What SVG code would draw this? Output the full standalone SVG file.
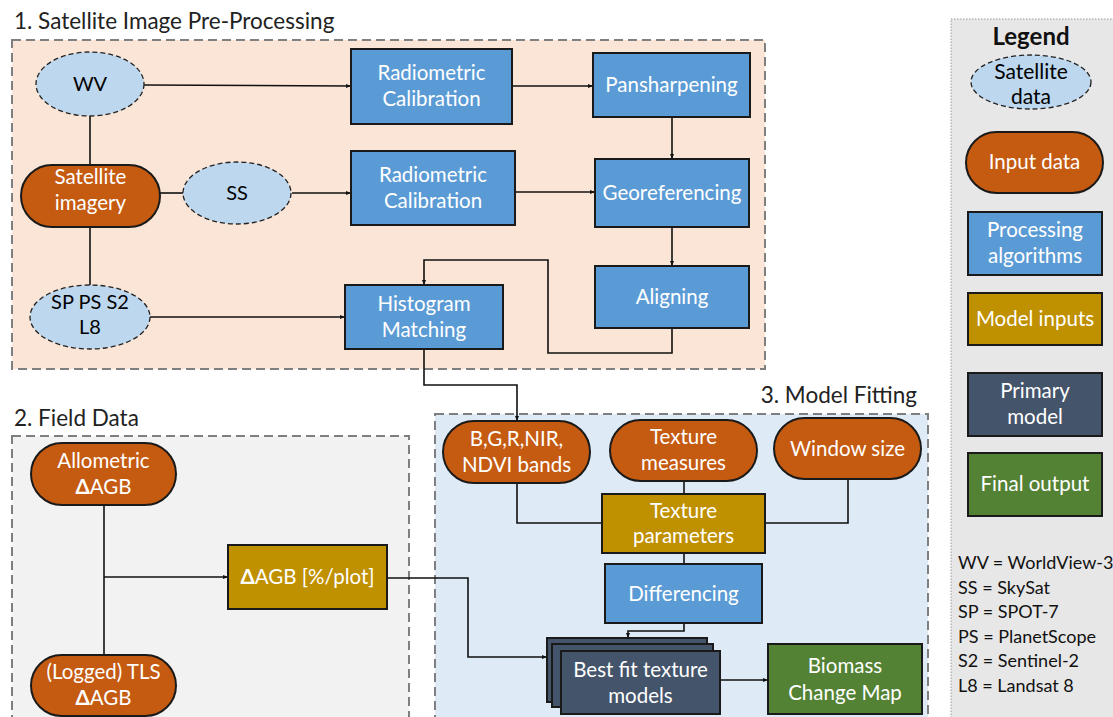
<svg xmlns="http://www.w3.org/2000/svg" width="1113" height="717" viewBox="0 0 1113 717">
<defs>
<style>
text{font-family:Lato,"Open Sans","Liberation Sans",sans-serif;text-anchor:middle}
.w{fill:#ffffff;font-size:20.5px}
.k{fill:#000000;font-size:20px}
.title{fill:#222;font-size:22.5px;text-anchor:start}
.sec{stroke:#7f7f7f;stroke-width:2;stroke-dasharray:9 5}
.ell{fill:#bdd7ee;stroke:#222;stroke-width:1.3;stroke-dasharray:5 3}
.inp{fill:#c55a11;stroke:#1a1a1a;stroke-width:2}
.proc{fill:#5b9bd5;stroke:#1a1a1a;stroke-width:2}
.mod{fill:#bf9000;stroke:#1a1a1a;stroke-width:2}
.prim{fill:#44546a;stroke:#1a1a1a;stroke-width:2}
.fin{fill:#548235;stroke:#1a1a1a;stroke-width:2}
.c{fill:none;stroke:#111;stroke-width:1.6}
.abbr{fill:#111;font-size:18px;text-anchor:start}
</style>
<marker id="ah" viewBox="0 0 10 10" refX="10" refY="5" markerWidth="5" markerHeight="5" orient="auto" markerUnits="userSpaceOnUse">
<path d="M0,1 L10,5 L0,9 z" fill="#111"/>
</marker>
</defs>
<rect width="1113" height="717" fill="#ffffff"/>

<g id="sections">
<rect class="sec" x="12" y="40" width="753" height="329" fill="#fbe5d6"/>
<text class="title" x="14" y="29">1. Satellite Image Pre-Processing</text>
<rect class="sec" x="12" y="436" width="397" height="300" fill="#f2f2f2"/>
<text class="title" x="14" y="426">2. Field Data</text>
<rect class="sec" x="435" y="414" width="493" height="320" fill="#deebf7"/>
<text class="title" x="917" y="403" style="text-anchor:end">3. Model Fitting</text>
</g>

<g id="legend">
<rect x="951" y="19" width="180" height="720" fill="#e7e7e7" stroke="#999" stroke-width="1" stroke-dasharray="1.5 1.5"/>
<text x="1031" y="45" style="font-size:24px;font-weight:bold;fill:#111">Legend</text>
<ellipse class="ell" cx="1031" cy="82" rx="60" ry="27"/>
<text class="k" x="1031" y="79" style="font-size:21px">Satellite</text>
<text class="k" x="1031" y="104" style="font-size:21px">data</text>
<rect class="inp" x="966" y="132" width="137" height="61" rx="30.5"/>
<text class="w" x="1034.5" y="169">Input data</text>
<rect class="proc" x="968" y="212" width="134" height="63"/>
<text class="w" x="1035" y="237">Processing</text>
<text class="w" x="1035" y="263">algorithms</text>
<rect class="mod" x="968" y="293" width="134" height="52"/>
<text class="w" x="1035" y="326">Model inputs</text>
<rect class="prim" x="968" y="373" width="134" height="63"/>
<text class="w" x="1035" y="398">Primary</text>
<text class="w" x="1035" y="424">model</text>
<rect class="fin" x="968" y="453" width="134" height="63"/>
<text class="w" x="1035" y="491">Final output</text>
<text class="abbr" x="958" y="569">WV = WorldView-3</text>
<text class="abbr" x="958" y="594">SS = SkySat</text>
<text class="abbr" x="958" y="618">SP = SPOT-7</text>
<text class="abbr" x="958" y="643">PS = PlanetScope</text>
<text class="abbr" x="958" y="667">S2 = Sentinel-2</text>
<text class="abbr" x="958" y="692">L8 = Landsat 8</text>
</g>

<g id="connectors">
<path class="c" d="M144,85 L351,86" marker-end="url(#ah)"/>
<path class="c" d="M90,116 V165"/>
<path class="c" d="M90,227 V285"/>
<path class="c" d="M160,193 H183"/>
<path class="c" d="M292,193 H351" marker-end="url(#ah)"/>
<path class="c" d="M512,86 H593" marker-end="url(#ah)"/>
<path class="c" d="M515,192 H595" marker-end="url(#ah)"/>
<path class="c" d="M672,117 V159" marker-end="url(#ah)"/>
<path class="c" d="M672,227 V266" marker-end="url(#ah)"/>
<path class="c" d="M672,328 V353 H548 V260 H424 V285" marker-end="url(#ah)"/>
<path class="c" d="M150,317 H345" marker-end="url(#ah)"/>
<path class="c" d="M424,349 V385 H517 V421" marker-end="url(#ah)"/>
<path class="c" d="M104,505 V655"/>
<path class="c" d="M104,577 H228" marker-end="url(#ah)"/>
<path class="c" d="M387,578 H468 V657 H547" marker-end="url(#ah)"/>
<path class="c" d="M517,483 V523 H602"/>
<path class="c" d="M848,479 V523 H765"/>
<path class="c" d="M684,481 V494"/>
<path class="c" d="M684,553 V564"/>
<path class="c" d="M684,623 V631 H628 V638" marker-end="url(#ah)"/>
<path class="c" d="M720,680 H768" marker-end="url(#ah)"/>
</g>

<g id="wv"><ellipse class="ell" cx="90" cy="84" rx="54" ry="32"/><text class="k" x="90" y="91">WV</text></g>
<g id="satellite-imagery"><rect class="inp" x="21" y="165" width="139" height="62" rx="31"/><text class="w" x="90.5" y="184">Satellite</text><text class="w" x="90.5" y="210">imagery</text></g>
<g id="ss"><ellipse class="ell" cx="237" cy="193" rx="54" ry="31"/><text class="k" x="237" y="200">SS</text></g>
<g id="sp-ps-s2-l8"><ellipse class="ell" cx="90" cy="317" rx="60" ry="32"/><text class="k" x="90" y="309">SP PS S2</text><text class="k" x="90" y="334">L8</text></g>
<g id="radiometric-1"><rect class="proc" x="351" y="49" width="161" height="75"/><text class="w" x="431.5" y="80">Radiometric</text><text class="w" x="431.5" y="106">Calibration</text></g>
<g id="radiometric-2"><rect class="proc" x="351" y="151" width="164" height="74"/><text class="w" x="433" y="182">Radiometric</text><text class="w" x="433" y="208">Calibration</text></g>
<g id="pansharpening"><rect class="proc" x="593" y="53" width="157" height="64"/><text class="w" x="671.5" y="92">Pansharpening</text></g>
<g id="georeferencing"><rect class="proc" x="595" y="159" width="154" height="68"/><text class="w" x="672" y="200">Georeferencing</text></g>
<g id="aligning"><rect class="proc" x="595" y="266" width="154" height="62"/><text class="w" x="672" y="304">Aligning</text></g>
<g id="histogram-matching"><rect class="proc" x="345" y="285" width="158" height="64"/><text class="w" x="424" y="311">Histogram</text><text class="w" x="424" y="337">Matching</text></g>

<g id="allometric"><rect class="inp" x="31" y="443" width="145" height="62" rx="31"/><text class="w" x="103.5" y="468">Allometric</text><text class="w" x="103.5" y="494"><tspan font-weight="bold">Δ</tspan>AGB</text></g>
<g id="tls"><rect class="inp" x="31" y="655" width="145" height="61" rx="30.5"/><text class="w" x="103.5" y="679">(Logged) TLS</text><text class="w" x="103.5" y="705"><tspan font-weight="bold">Δ</tspan>AGB</text></g>
<g id="dagb-plot"><rect class="mod" x="228" y="545" width="159" height="64"/><text class="w" x="307.5" y="584"><tspan font-weight="bold">Δ</tspan>AGB [%/plot]</text></g>

<g id="bands"><rect class="inp" x="443" y="421" width="147" height="62" rx="31"/><text class="w" x="516.5" y="446">B,G,R,NIR,</text><text class="w" x="516.5" y="472">NDVI bands</text></g>
<g id="texture-measures"><rect class="inp" x="610" y="420" width="147" height="61" rx="30.5"/><text class="w" x="683.5" y="444">Texture</text><text class="w" x="683.5" y="470">measures</text></g>
<g id="window-size"><rect class="inp" x="774" y="418" width="147" height="61" rx="30.5"/><text class="w" x="847.5" y="456">Window size</text></g>
<g id="texture-parameters"><rect class="mod" x="602" y="494" width="163" height="59"/><text class="w" x="683.5" y="518">Texture</text><text class="w" x="683.5" y="543">parameters</text></g>
<g id="differencing"><rect class="proc" x="605" y="564" width="157" height="59"/><text class="w" x="683.5" y="601">Differencing</text></g>
<g id="best-fit"><rect class="prim" x="547" y="638" width="160" height="64"/><rect class="prim" x="552" y="644" width="161" height="63"/><rect class="prim" x="561" y="651" width="159" height="63"/><text class="w" x="640.5" y="677">Best fit texture</text><text class="w" x="640.5" y="703">models</text></g>
<g id="biomass-map"><rect class="fin" x="768" y="644" width="154" height="70"/><text class="w" x="845" y="673">Biomass</text><text class="w" x="845" y="700">Change Map</text></g>
</svg>
